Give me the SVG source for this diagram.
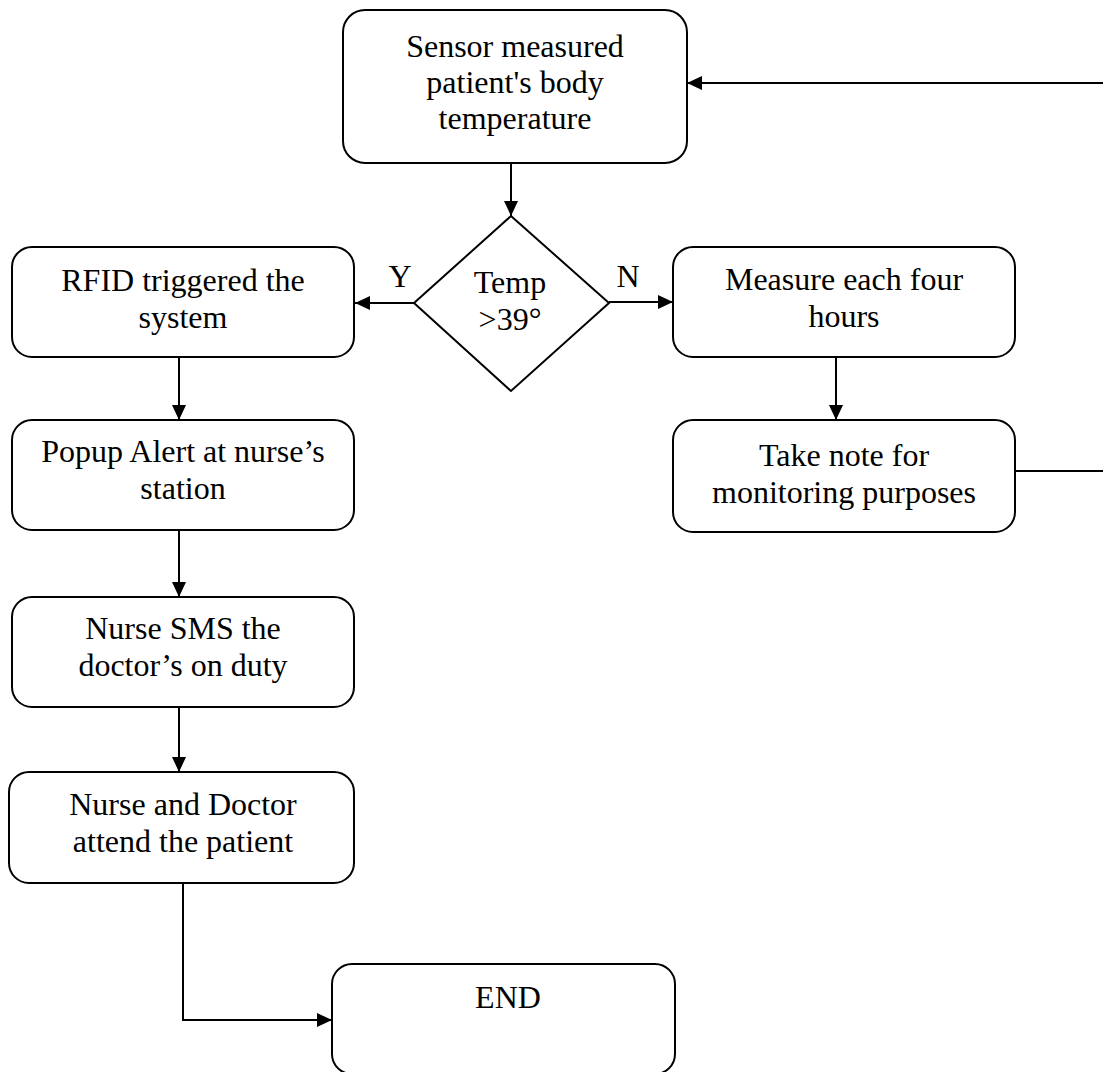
<svg xmlns="http://www.w3.org/2000/svg" width="1103" height="1072" viewBox="0 0 1103 1072">
<defs>
<style>
.box{fill:#fff;stroke:#000;stroke-width:2}
.t{font-family:"Liberation Serif","Times New Roman",serif;font-size:32px;fill:#000;text-anchor:middle}
.c{fill:none;stroke:#000;stroke-width:2}
</style>
<marker id="ah" markerWidth="15" markerHeight="14" refX="15" refY="7" orient="auto" markerUnits="userSpaceOnUse">
<path d="M0,0 L15,7 L0,14 Z" fill="#000"/>
</marker>
</defs>
<rect width="1103" height="1072" fill="#fff"/>
<g id="connectors">
<path class="c" d="M511,163 V216" marker-end="url(#ah)"/>
<path class="c" d="M414,303 H355" marker-end="url(#ah)"/>
<path class="c" d="M609,302 H673" marker-end="url(#ah)"/>
<path class="c" d="M179,357 V420" marker-end="url(#ah)"/>
<path class="c" d="M179,530 V597" marker-end="url(#ah)"/>
<path class="c" d="M179,707 V772" marker-end="url(#ah)"/>
<path class="c" d="M836,357 V420" marker-end="url(#ah)"/>
<path class="c" d="M1015,471 H1112 V83 H687" marker-end="url(#ah)"/>
<path class="c" d="M183,883 V1020 H332" marker-end="url(#ah)"/>
<text class="t" x="400" y="287">Y</text>
<text class="t" x="628" y="287">N</text>
</g>
<g id="sensor">
<rect class="box" x="343" y="10" width="344" height="153" rx="22"/>
<text class="t" x="515" y="57">Sensor measured</text>
<text class="t" x="515" y="93">patient's body</text>
<text class="t" x="515" y="129">temperature</text>
</g>
<g id="decision">
<polygon class="box" points="511,216 609,303 511,391 414,303"/>
<text class="t" x="510" y="293">Temp</text>
<text class="t" x="510" y="330">&gt;39°</text>
</g>
<g id="rfid">
<rect class="box" x="12" y="247" width="342" height="110" rx="20"/>
<text class="t" x="183" y="291">RFID triggered the</text>
<text class="t" x="183" y="328">system</text>
</g>
<g id="popup">
<rect class="box" x="12" y="420" width="342" height="110" rx="20"/>
<text class="t" x="183" y="462">Popup Alert at nurse’s</text>
<text class="t" x="183" y="499">station</text>
</g>
<g id="sms">
<rect class="box" x="12" y="597" width="342" height="110" rx="20"/>
<text class="t" x="183" y="639">Nurse SMS the</text>
<text class="t" x="183" y="676">doctor’s on duty</text>
</g>
<g id="attend">
<rect class="box" x="9" y="772" width="345" height="111" rx="20"/>
<text class="t" x="183" y="815">Nurse and Doctor</text>
<text class="t" x="183" y="852">attend the patient</text>
</g>
<g id="end">
<rect class="box" x="332" y="964" width="343" height="110" rx="20"/>
<text class="t" x="508" y="1008">END</text>
</g>
<g id="measure">
<rect class="box" x="673" y="247" width="342" height="110" rx="20"/>
<text class="t" x="844" y="290">Measure each four</text>
<text class="t" x="844" y="327">hours</text>
</g>
<g id="note">
<rect class="box" x="673" y="420" width="342" height="112" rx="20"/>
<text class="t" x="844" y="466">Take note for</text>
<text class="t" x="844" y="503">monitoring purposes</text>
</g>
</svg>
